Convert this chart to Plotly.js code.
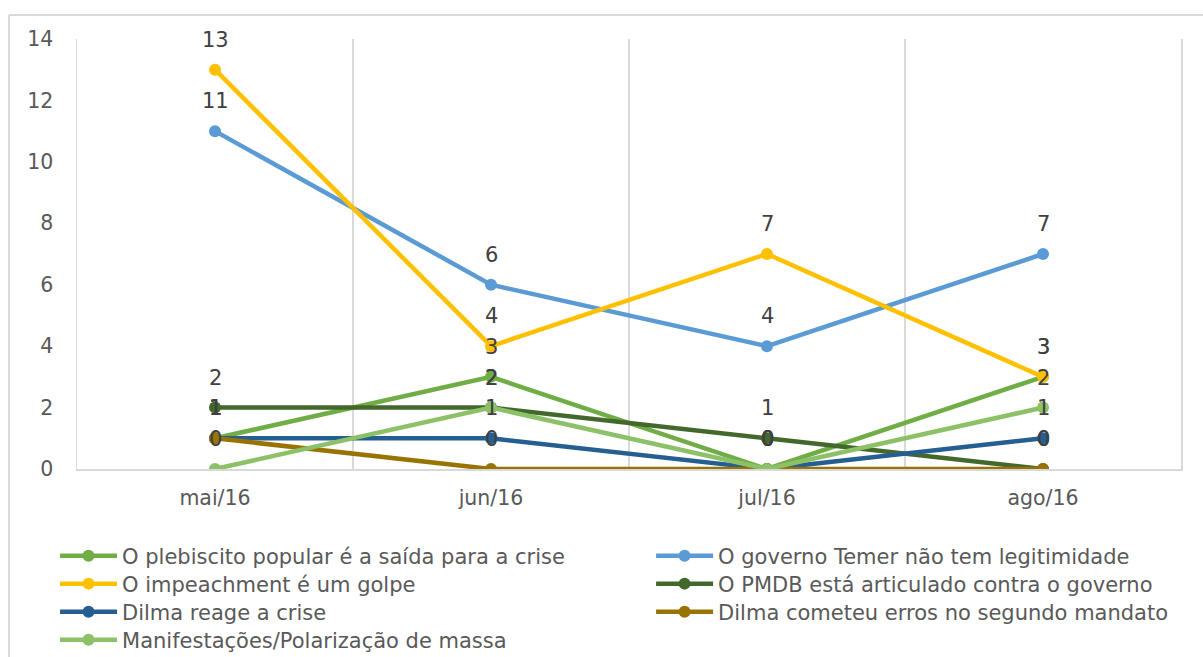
<!DOCTYPE html>
<html>
<head>
<meta charset="utf-8">
<script src="https://cdn.plot.ly/plotly-3.0.1.min.js"></script>
<style>html,body{margin:0;padding:0;background:#fff;}#chart{width:1203px;height:657px;}</style>
</head>
<body>
<div id="chart"></div>
<script>
const categories = ['mai/16', 'jun/16', 'jul/16', 'ago/16'];

const seriesNames = [
  'O plebiscito popular é a saída para a crise',
  'O governo Temer não tem legitimidade',
  'O impeachment é um golpe',
  'O PMDB está articulado contra o governo',
  'Dilma reage a crise',
  'Dilma cometeu erros no segundo mandato',
  'Manifestações/Polarização de massa'
];

const plebiscito = [1, 3, 0, 3];
const governoTemer = [11, 6, 4, 7];
const impeachment = [13, 4, 7, 3];
const pmdb = [2, 2, 1, 0];
const dilmaReage = [1, 1, 0, 1];
const dilmaErros = [1, 0, 0, 0];
const manifestacoes = [0, 2, 0, 2];

const seriesValues = [plebiscito, governoTemer, impeachment, pmdb, dilmaReage, dilmaErros, manifestacoes];
const seriesColors = ['#70AD47', '#5B9BD5', '#FFC000', '#43682B', '#255E91', '#997300', '#8CC168'];

const FONT = 'DejaVu Sans, Liberation Sans, Arial, sans-serif';
const legendIds = ['legend', 'legend2', 'legend3', 'legend4', 'legend5', 'legend6', 'legend7'];

const traces = seriesValues.map((vals, i) => ({
  type: 'scatter',
  mode: 'lines+markers',
  name: seriesNames[i],
  x: categories,
  y: vals,
  legend: legendIds[i],
  line: {color: seriesColors[i], width: 4.5},
  marker: {color: seriesColors[i], size: 12},
  hoverinfo: 'skip'
}));

const annotations = [];
seriesValues.forEach((vals) => {
  vals.forEach((v, j) => {
    annotations.push({
      x: categories[j], y: v, xref: 'x', yref: 'y',
      text: String(v), showarrow: false, yshift: 30,
      font: {family: FONT, size: 21, color: '#404040'}
    });
  });
});

const layout = {
  width: 1203, height: 657,
  margin: {l: 77, r: 22, t: 39, b: 188, autoexpand: false},
  paper_bgcolor: '#ffffff', plot_bgcolor: '#ffffff',
  font: {family: FONT, size: 20, color: '#595959'},
  showlegend: true,
  xaxis: {
    type: 'category', range: [-0.5, 3.5], tickson: 'boundaries',
    showgrid: true, gridcolor: '#d9d9d9', gridwidth: 1.5,
    showline: true, linecolor: '#d9d9d9', linewidth: 1.5,
    ticks: '', ticklabelstandoff: 10, zeroline: false,
    tickfont: {family: FONT, size: 20.5, color: '#595959'}
  },
  yaxis: {
    range: [0, 14], dtick: 2, showgrid: false, zeroline: false,
    showline: true, mirror: true, linecolor: '#d9d9d9', linewidth: 1.5,
    ticks: '', ticklabelstandoff: 18,
    tickfont: {family: FONT, size: 20.5, color: '#595959'}
  },
  annotations: annotations,
  shapes: [
    {type: 'line', xref: 'paper', yref: 'paper', x0: -0.0616, x1: 1.2, y0: 1.0558, y1: 1.0558, line: {color: '#d9d9d9', width: 2}},
    {type: 'line', xref: 'paper', yref: 'paper', x0: -0.0616, x1: -0.0616, y0: 1.0558, y1: -0.6, line: {color: '#d9d9d9', width: 2}}
  ]
};

// one legend per entry: two columns, four rows
const legendCols = [-0.0199, 0.52];
const legendRows = [-0.2023, -0.2674, -0.3326, -0.3977];
legendIds.forEach((id, i) => {
  layout[id] = {
    x: legendCols[i % 2], y: legendRows[Math.floor(i / 2)],
    xanchor: 'left', yanchor: 'middle',
    orientation: 'v', itemwidth: 57, bgcolor: 'rgba(0,0,0,0)',
    font: {family: FONT, size: 21, color: '#595959'}
  };
});

Plotly.newPlot('chart', traces, layout, {displayModeBar: false, staticPlot: true});
</script>
</body>
</html>
